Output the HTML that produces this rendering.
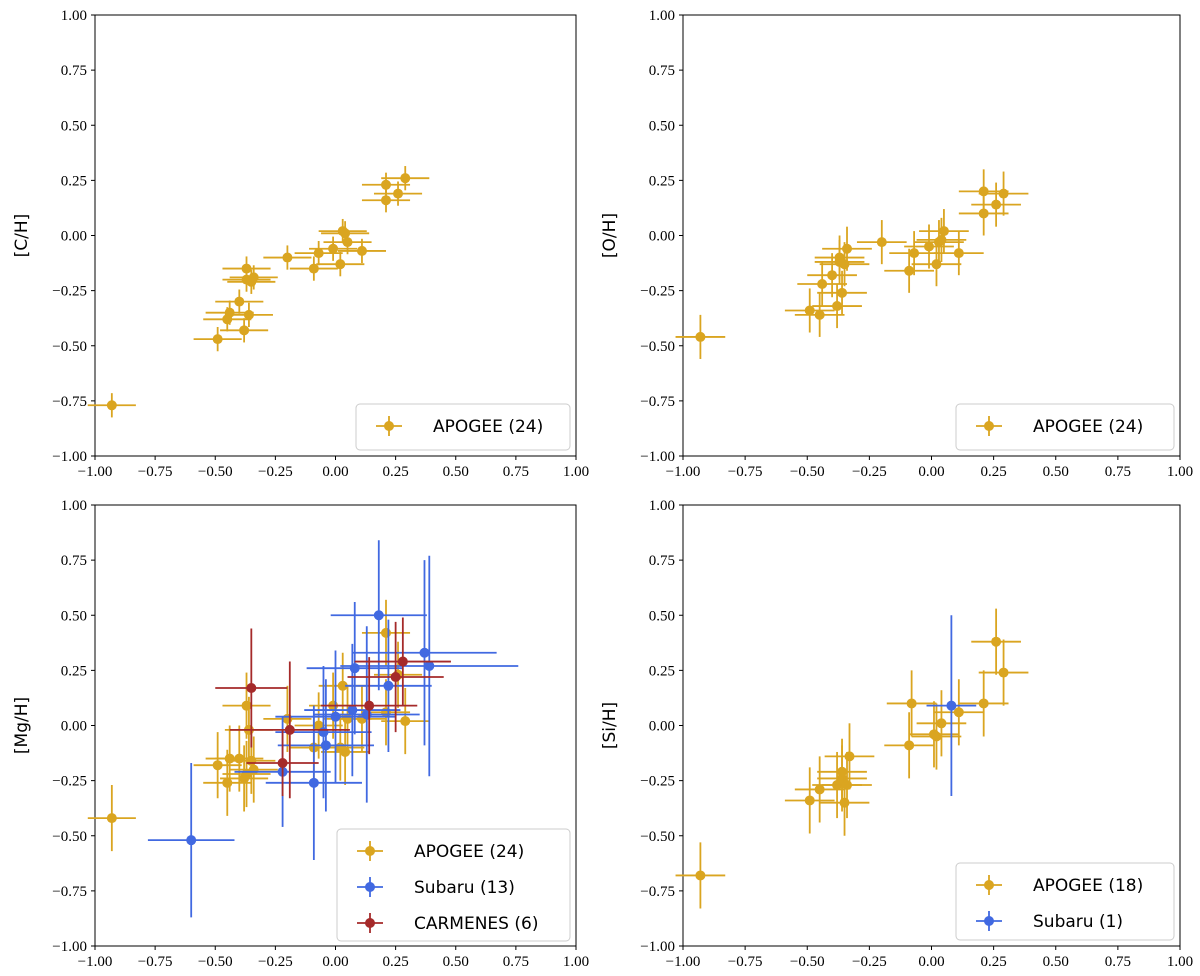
<!DOCTYPE html>
<html><head><meta charset="utf-8"><style>
body{margin:0;background:#fff}
svg{display:block}
.tk{font-family:"Liberation Serif",serif;font-size:15px;fill:#000}
.lab{font-family:"DejaVu Sans","Liberation Sans",sans-serif;font-size:17px;fill:#000}
.leg{font-family:"DejaVu Sans","Liberation Sans",sans-serif;font-size:17px;fill:#000}
</style></head><body>
<svg id="c" width="1200" height="976" xmlns="http://www.w3.org/2000/svg"></svg>
<script>
const ticks=[-1,-0.75,-0.5,-0.25,0,0.25,0.5,0.75,1];
const tickLabels=["\u22121.00","\u22120.75","\u22120.50","\u22120.25","0.00","0.25","0.50","0.75","1.00"];
const apoX=[-0.93,-0.49,-0.45,-0.44,-0.40,-0.38,-0.36,-0.37,-0.37,-0.35,-0.34,-0.20,-0.09,-0.07,-0.01,0.02,0.03,0.05,0.04,0.11,0.21,0.21,0.26,0.29];
const cY=[-0.77,-0.47,-0.38,-0.35,-0.30,-0.43,-0.36,-0.15,-0.20,-0.21,-0.19,-0.10,-0.15,-0.08,-0.06,-0.13,0.02,-0.03,0.01,-0.07,0.23,0.16,0.19,0.26];
const oY=[-0.46,-0.34,-0.36,-0.22,-0.18,-0.32,-0.26,-0.10,-0.12,-0.13,-0.06,-0.03,-0.16,-0.08,-0.05,-0.13,-0.03,0.02,-0.02,-0.08,0.20,0.10,0.14,0.19];
const mgY=[-0.42,-0.18,-0.26,-0.15,-0.15,-0.24,-0.02,0.09,-0.22,-0.16,-0.20,0.03,-0.10,0.00,0.09,-0.10,0.18,0.03,-0.12,0.03,0.06,0.42,0.23,0.02];
const subX=[-0.60,-0.22,-0.09,-0.04,-0.05,0.00,0.07,0.08,0.13,0.18,0.22,0.37,0.39];
const subY=[-0.52,-0.21,-0.26,-0.09,-0.03,0.04,0.07,0.26,0.05,0.50,0.18,0.33,0.27];
const subXe=[0.18,0.2,0.2,0.2,0.2,0.25,0.2,0.2,0.22,0.2,0.18,0.3,0.37];
const subYe=[0.35,0.25,0.35,0.3,0.3,0.3,0.3,0.3,0.4,0.34,0.3,0.42,0.5];
const carX=[-0.35,-0.22,-0.19,0.14,0.25,0.28];
const carY=[0.17,-0.17,-0.02,0.09,0.22,0.29];
const carXe=[0.15,0.15,0.25,0.2,0.2,0.2];
const carYe=[0.27,0.15,0.31,0.22,0.25,0.2];
const siX=[-0.93,-0.49,-0.45,-0.38,-0.36,-0.35,-0.36,-0.34,-0.33,-0.09,-0.08,0.01,0.02,0.04,0.11,0.21,0.26,0.29];
const siY=[-0.68,-0.34,-0.29,-0.27,-0.24,-0.35,-0.21,-0.27,-0.14,-0.09,0.10,-0.04,-0.05,0.01,0.06,0.10,0.38,0.24];
const subSiX=[0.08],subSiY=[0.09],subSiXe=[0.1],subSiYe=[0.41];
const GOLD="#DAA520",BLUE="#4169E1",RED="#A52A2A";
const svg=document.getElementById('c');const NS="http://www.w3.org/2000/svg";
function mk(t,a,p){const e=document.createElementNS(NS,t);for(const k in a)e.setAttribute(k,a[k]);(p||svg).appendChild(e);return e;}
function panel(name,L,T,W,H,ylab,series,legend){
 const g=mk('g',{});
 
 
 const sx=v=>L+(v+1)/2*W, sy=v=>T+(1-v)/2*H;
 mk('rect',{x:L,y:T,width:W,height:H,fill:'none',stroke:'#000','stroke-width':1},g);
 ticks.forEach((t,i)=>{
  mk('line',{x1:sx(t),x2:sx(t),y1:T+H,y2:T+H+4,stroke:'#000'},g);
  mk('line',{x1:L-4,x2:L,y1:sy(t),y2:sy(t),stroke:'#000'},g);
  const a=mk('text',{x:sx(t),y:T+H+20,'text-anchor':'middle',class:'tk'},g);a.textContent=tickLabels[i];
  const b=mk('text',{x:L-8,y:sy(t)+5,'text-anchor':'end',class:'tk'},g);b.textContent=tickLabels[i];
 });
 const yl=mk('text',{class:'lab','text-anchor':'middle',transform:`translate(${L-68},${T+H/2}) rotate(-90)`},g);yl.textContent=ylab;
 
 
 series.forEach(s=>{
  const sg=mk('g',{},g);
  
  
  s.x.forEach((xv,i)=>{
   const xe=s.xe?(Array.isArray(s.xe)?s.xe[i]:s.xe):0.1, ye=Array.isArray(s.ye)?s.ye[i]:s.ye;
   mk('line',{x1:sx(xv-xe),x2:sx(xv+xe),y1:sy(s.y[i]),y2:sy(s.y[i]),stroke:s.c,'stroke-width':1.8},sg);
   mk('line',{x1:sx(xv),x2:sx(xv),y1:sy(s.y[i]-ye),y2:sy(s.y[i]+ye),stroke:s.c,'stroke-width':1.8},sg);
   const p=mk('circle',{cx:sx(xv),cy:sy(s.y[i]),r:5,fill:s.c},sg);
   
   
  });
 });
 const [lx,ly,lw,lh]=legend.box;
 const lg=mk('g',{},g);
 
 
 mk('rect',{x:lx,y:ly,width:lw,height:lh,rx:4,fill:'#fff',stroke:'#ccc'},lg);
 legend.items.forEach((it,i)=>{
  const cy=ly+22+i*36,cx=lx+33;
  mk('line',{x1:cx-13,x2:cx+13,y1:cy,y2:cy,stroke:it.c,'stroke-width':1.8},lg);
  mk('line',{x1:cx,x2:cx,y1:cy-10,y2:cy+10,stroke:it.c,'stroke-width':1.8},lg);
  mk('circle',{cx:cx,cy:cy,r:5,fill:it.c},lg);
  const t=mk('text',{x:lx+77,y:cy+6,class:'leg'},lg);t.textContent=it.t;
 });
}
panel('carbon',95,15,481,441,'[C/H]',[{name:'apogee-series',x:apoX,y:cY,c:GOLD,ye:0.055}],{box:[356,404,214,46],items:[{c:GOLD,t:'APOGEE (24)'}]});
panel('oxygen',683,15,497,441,'[O/H]',[{name:'apogee-series',x:apoX,y:oY,c:GOLD,ye:0.1}],{box:[956,404,218,46],items:[{c:GOLD,t:'APOGEE (24)'}]});
panel('magnesium',95,505,481,441,'[Mg/H]',[
 {name:'apogee-series',x:apoX,y:mgY,c:GOLD,ye:0.15},
 {name:'subaru-series',x:subX,y:subY,c:BLUE,xe:subXe,ye:subYe},
 {name:'carmenes-series',x:carX,y:carY,c:RED,xe:carXe,ye:carYe}],
 {box:[337,829,233,112],items:[{c:GOLD,t:'APOGEE (24)'},{c:BLUE,t:'Subaru (13)'},{c:RED,t:'CARMENES (6)'}]});
panel('silicon',683,505,497,441,'[Si/H]',[
 {name:'apogee-series',x:siX,y:siY,c:GOLD,ye:0.15},
 {name:'subaru-series',x:subSiX,y:subSiY,c:BLUE,xe:subSiXe,ye:subSiYe}],
 {box:[956,863,218,77],items:[{c:GOLD,t:'APOGEE (18)'},{c:BLUE,t:'Subaru (1)'}]});
</script>
</body></html>
